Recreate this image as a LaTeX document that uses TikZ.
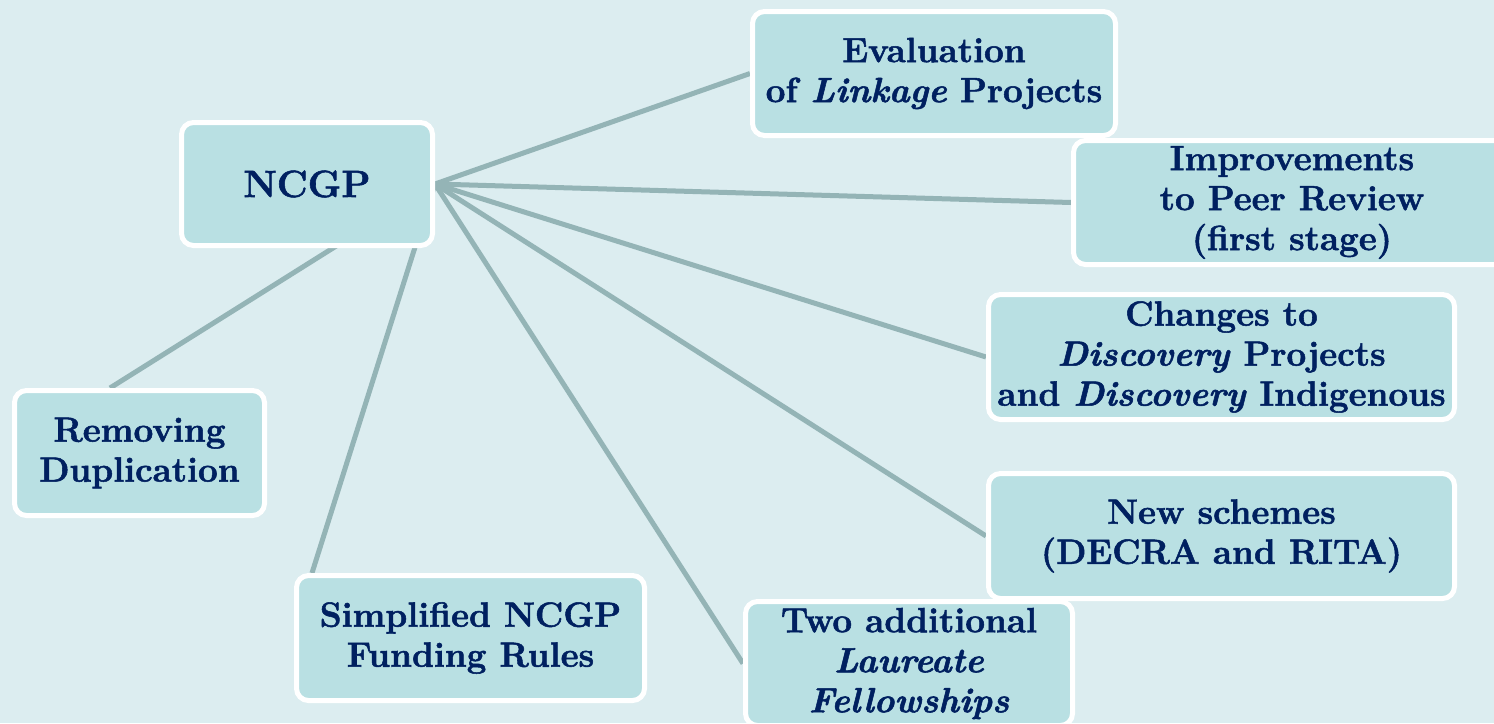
\documentclass[tikz,border=0pt]{standalone}
\usepackage{fontspec}
\setmainfont{Latin Modern Roman}[BoldFeatures={FakeBold=1.5}, BoldItalicFeatures={FakeBold=1.5}]
\usepackage{tikz}
\usepackage{xcolor}

\definecolor{bgcol}{RGB}{220,237,240}
\definecolor{boxcol}{RGB}{185,224,227}
\definecolor{txtcol}{RGB}{0,32,96}
\definecolor{linecol}{RGB}{148,180,182}

\pgfdeclarelayer{backdrop}
\pgfdeclarelayer{spokes}
\pgfsetlayers{backdrop,spokes,main}

\tikzset{
  topic/.style={draw=white, line width=2.5pt, fill=boxcol, rounded corners=6pt,
    text=txtcol, align=center, font=\fontsize{17.5}{20}\selectfont\bfseries,
    inner sep=0pt},
  spoke/.style={linecol, line width=2.5pt}
}

\begin{document}
\begin{tikzpicture}[x=0.5pt, y=-0.5pt] % one unit = one pixel of the slide
    \useasboundingbox (0,0) rectangle (1494,723);
    \clip (0,0) rectangle (1494,723);

    % Boxes
    \node[topic, minimum width=125.5pt, minimum height=61.5pt,
          font=\fontsize{19}{22}\selectfont\bfseries] (ncgp) at (307,184) {NCGP};
    \node[topic, minimum width=181.5pt, minimum height=62pt] (eval) at (934,73.5)
        {Evaluation\\of \textit{Linkage} Projects};
    \node[topic, minimum width=218.5pt, minimum height=62pt] (peer) at (1292,202.5)
        {Improvements\\to Peer Review\\(first stage)};
    \node[topic, minimum width=233pt, minimum height=62.5pt] (disc) at (1221.5,357)
        {Changes to\\\textit{Discovery} Projects\\and \textit{Discovery} Indigenous};
    \node[topic, minimum width=233pt, minimum height=62.5pt] (new) at (1221.5,536)
        {New schemes\\(DECRA and RITA)};
    \node[topic, minimum width=163.5pt, minimum height=62pt] (laur) at (909,663.5)
        {Two additional\\\textit{Laureate}\\\textit{Fellowships}};
    \node[topic, minimum width=174pt, minimum height=62.5pt] (rules) at (470.5,638)
        {Simplified NCGP\\Funding Rules};
    \node[topic, minimum width=125pt, minimum height=62.5pt] (dupl) at (139.5,453)
        {Removing\\Duplication};

    % Spokes, under the boxes
    \begin{pgfonlayer}{spokes}
        \draw[spoke] (ncgp.east) -- (eval.west);
        \draw[spoke] (ncgp.east) -- (peer.west);
        \draw[spoke] (ncgp.east) -- (disc.west);
        \draw[spoke] (ncgp.east) -- (new.west);
        \draw[spoke] (ncgp.east) -- (laur.west);
        \draw[spoke] (ncgp.east) -- ([xshift=9pt]rules.north west);
        \draw[spoke] (ncgp.east) -- ([xshift=49pt]dupl.north west);
    \end{pgfonlayer}

    % Background
    \begin{pgfonlayer}{backdrop}
        \fill[bgcol] (0,0) rectangle (1494,723);
    \end{pgfonlayer}
\end{tikzpicture}
\end{document}
